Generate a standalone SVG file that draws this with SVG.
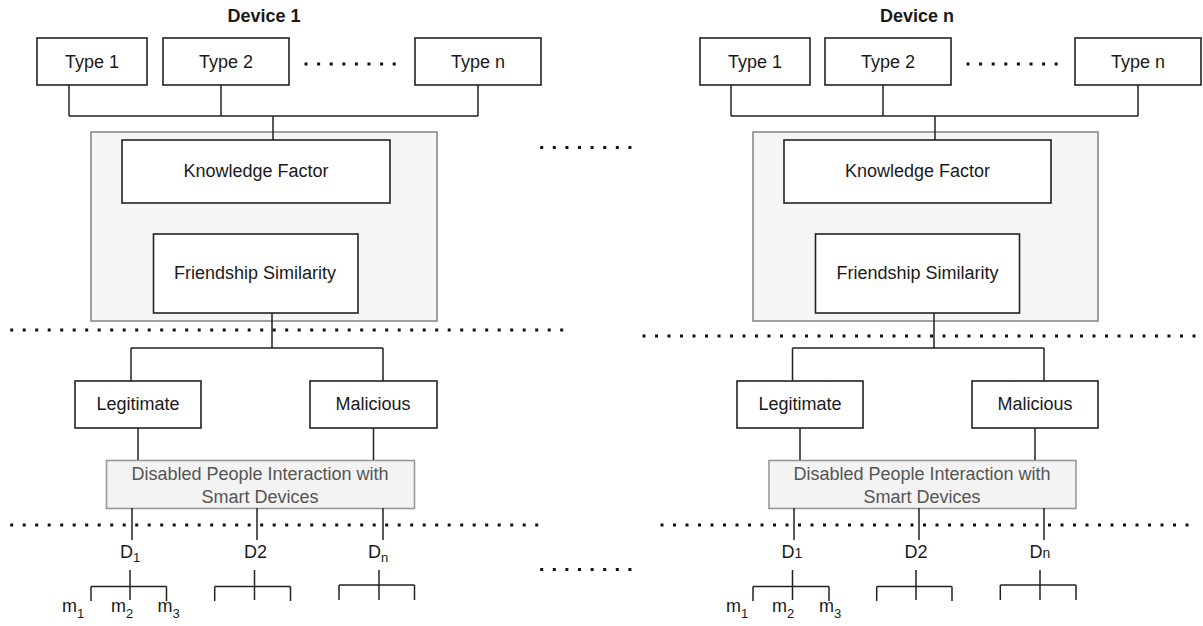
<svg xmlns="http://www.w3.org/2000/svg" width="1203" height="626" viewBox="0 0 1203 626">
<style>
text{font-family:"Liberation Sans",Arial,sans-serif;fill:#1a1a1a;}
.t{font-size:18px;text-anchor:middle;}
.h{font-size:18px;font-weight:bold;text-anchor:middle;}
.g{font-size:18px;text-anchor:middle;fill:#555;}
.s{font-size:18px;}
.box{fill:#fff;stroke:#222;stroke-width:1.6;}
.cont{fill:#f5f5f5;stroke:#8a8a8a;stroke-width:1.6;}
.dis{fill:#f3f3f3;stroke:#999;stroke-width:1.6;}
.ln{fill:none;stroke:#222;stroke-width:1.5;}
.dot{fill:none;stroke:#111;stroke-width:3;stroke-linecap:square;}
</style>
<!-- left panel -->
<text class="h" x="264" y="22">Device 1</text>
<g id="l-type1"><rect class="box" x="37" y="38" width="110" height="47"/><text class="t" x="92" y="68">Type 1</text></g>
<g id="l-type2"><rect class="box" x="163" y="38" width="126" height="47"/><text class="t" x="226" y="68">Type 2</text></g>
<g id="l-typen"><rect class="box" x="415" y="38" width="126" height="47"/><text class="t" x="478" y="68">Type n</text></g>
<g id="l-container"><rect class="cont" x="91" y="132" width="346" height="189"/></g>
<g id="l-knowledge"><rect class="box" x="122" y="140" width="268" height="63"/><text class="t" x="256" y="177">Knowledge Factor</text></g>
<g id="l-friend"><rect class="box" x="153.5" y="234" width="204.5" height="79"/><text class="t" x="255" y="279">Friendship Similarity</text></g>
<g id="l-legit"><rect class="box" x="75" y="381" width="126" height="47"/><text class="t" x="138" y="410">Legitimate</text></g>
<g id="l-mal"><rect class="box" x="310" y="381" width="127" height="47"/><text class="t" x="373" y="410">Malicious</text></g>
<g id="l-disabled"><rect class="dis" x="106.5" y="460.5" width="308" height="48"/><text class="g" x="260" y="480">Disabled People Interaction with</text><text class="g" x="260" y="503">Smart Devices</text></g>
<g id="l-d1"><text class="s" x="120" y="558">D<tspan font-size="13" dy="4">1</tspan></text></g>
<g id="l-d2"><text class="s" x="244" y="558">D2</text></g>
<g id="l-dn"><text class="s" x="368" y="558">D<tspan font-size="13" dy="4">n</tspan></text></g>
<g id="l-m"><text class="s" x="62" y="612">m<tspan font-size="13" dy="6">1</tspan></text><text class="s" x="111" y="612">m<tspan font-size="13" dy="6">2</tspan></text><text class="s" x="157.5" y="612">m<tspan font-size="13" dy="6">3</tspan></text></g>
<!-- right panel -->
<text class="h" x="917" y="22">Device n</text>
<g id="r-type1"><rect class="box" x="700" y="38" width="110" height="47"/><text class="t" x="755" y="68">Type 1</text></g>
<g id="r-type2"><rect class="box" x="825" y="38" width="126" height="47"/><text class="t" x="888" y="68">Type 2</text></g>
<g id="r-typen"><rect class="box" x="1075" y="38" width="126" height="47"/><text class="t" x="1138" y="68">Type n</text></g>
<g id="r-container"><rect class="cont" x="753" y="132" width="345" height="189"/></g>
<g id="r-knowledge"><rect class="box" x="784" y="140" width="267" height="63"/><text class="t" x="917.5" y="177">Knowledge Factor</text></g>
<g id="r-friend"><rect class="box" x="815.5" y="234" width="204" height="79"/><text class="t" x="917.5" y="279">Friendship Similarity</text></g>
<g id="r-legit"><rect class="box" x="737" y="381" width="126" height="47"/><text class="t" x="800" y="410">Legitimate</text></g>
<g id="r-mal"><rect class="box" x="972" y="381" width="126" height="47"/><text class="t" x="1035" y="410">Malicious</text></g>
<g id="r-disabled"><rect class="dis" x="769" y="460.5" width="307" height="48"/><text class="g" x="922" y="480">Disabled People Interaction with</text><text class="g" x="922" y="503">Smart Devices</text></g>
<g id="r-d1"><text class="s" text-anchor="middle" x="792" y="558">D<tspan font-size="14">1</tspan></text></g>
<g id="r-d2"><text class="s" text-anchor="middle" x="916" y="558">D2</text></g>
<g id="r-dn"><text class="s" text-anchor="middle" x="1040" y="558">D<tspan font-size="14">n</tspan></text></g>
<g id="r-m"><text class="s" x="726" y="612">m<tspan font-size="13" dy="6">1</tspan></text><text class="s" x="772" y="612">m<tspan font-size="13" dy="6">2</tspan></text><text class="s" x="819" y="612">m<tspan font-size="13" dy="6">3</tspan></text></g>
<!-- connectors -->
<g id="connectors">
<path class="ln" d="M69,85V116M221,85V116M478,85V116M69,116H478M273,116V140"/>
<path class="ln" d="M272,313V348M131,348H383M131,348V381M383,348V381M138,428V460M373.5,428V460"/>
<path class="ln" d="M132,508V540M257,508V540M383,508V540"/>
<path class="ln" d="M130,570V600M91,586.5H166.5M91,586.5V601M166.5,586.5V601"/>
<path class="ln" d="M254.5,570V600M214.7,586.5H290.5M214.7,586.5V601M290.5,586.5V601"/>
<path class="ln" d="M379,570V600M339,585H414.5M339,585V600M414.5,585V600"/>
<path class="ln" d="M731,85V116M883,85V116M1138,85V116M731,116H1138M935,116V140"/>
<path class="ln" d="M934,313V348M792.5,348H1044M792.5,348V381M1044,348V381M800,428V460M1035,428V460"/>
<path class="ln" d="M794,508V540M919,508V540M1044,508V540"/>
<path class="ln" d="M792.5,570V600M753,586.5H829M753,586.5V601M829,586.5V601"/>
<path class="ln" d="M916,570V600M876.7,586.5H952M876.7,586.5V601M952,586.5V601"/>
<path class="ln" d="M1040,570V600M1000.3,585H1076M1000.3,585V600M1076,585V600"/>
</g>
<!-- dotted separators -->
<g id="dots">
<path class="dot" stroke-dasharray="0 12.6" d="M306,64H396"/>
<path class="dot" stroke-dasharray="0 12.6" d="M968,64H1058"/>
<path class="dot" stroke-dasharray="0 12.6" d="M541.7,147.5H632"/>
<path class="dot" stroke-dasharray="0 12.6" d="M541.7,569.5H632"/>
<path class="dot" stroke-dasharray="0 12.5" d="M11.7,330H568"/>
<path class="dot" stroke-dasharray="0 12.5" d="M644,336H1203"/>
<path class="dot" stroke-dasharray="0 12.5" d="M11.7,525H541"/>
<path class="dot" stroke-dasharray="0 12.5" d="M662,525H1190"/>
</g>
</svg>
